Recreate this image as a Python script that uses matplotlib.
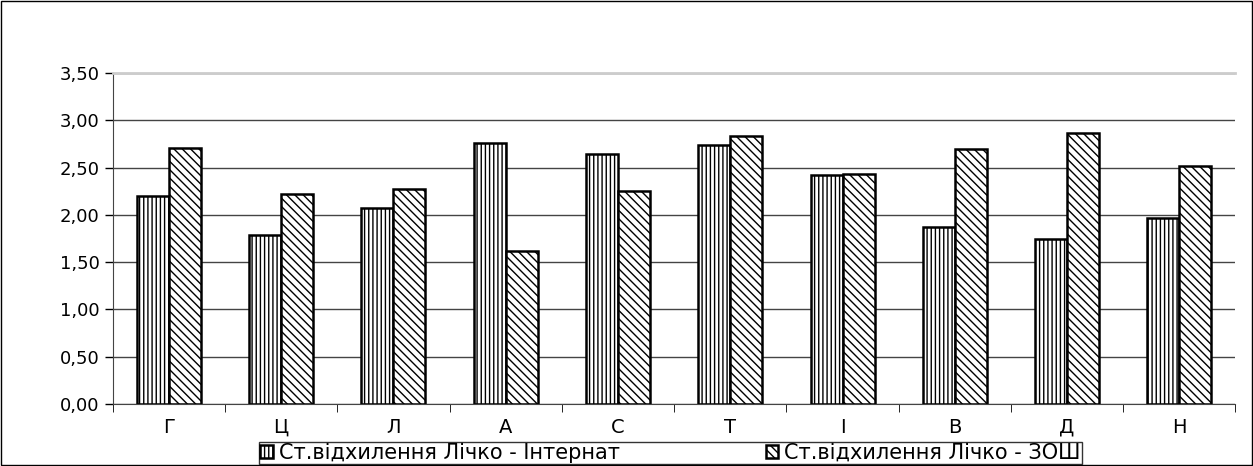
import numpy as np
import matplotlib
matplotlib.use('Agg')
import matplotlib.pyplot as plt
from matplotlib.patches import Rectangle

plt.rcParams['font.family'] = ['DejaVu Sans']
plt.rcParams['hatch.linewidth'] = 1.0

categories = ['Г', 'Ц', 'Л', 'А', 'С', 'Т', 'І', 'В', 'Д', 'Н']
internat = [2.20, 1.79, 2.07, 2.76, 2.64, 2.74, 2.42, 1.87, 1.75, 1.97]
zosh = [2.71, 2.22, 2.27, 1.62, 2.25, 2.83, 2.43, 2.70, 2.87, 2.52]
labels = ['Ст.відхилення Лічко - Інтернат', 'Ст.відхилення Лічко - ЗОШ']

fig = plt.figure(figsize=(12.53, 4.66), dpi=100)
fig.patches.append(Rectangle((0.001, 0.002), 0.998, 0.996, transform=fig.transFigure,
                             fill=False, edgecolor='black', linewidth=1))
ax = fig.add_axes([0.090, 0.133, 0.896, 0.710])

x = np.arange(len(categories))
w = 0.285
b1 = ax.bar(x - w / 2, internat, w, color='white', edgecolor='black', hatch='||||', linewidth=1.8)
b2 = ax.bar(x + w / 2, zosh, w, color='white', edgecolor='black', hatch='\\\\\\\\', linewidth=1.8)

ax.set_xlim(-0.5, len(categories) - 0.5)
ax.set_ylim(0, 3.5)
ax.set_yticks(np.arange(0, 3.51, 0.5))
ax.set_yticklabels([f'{v:.2f}'.replace('.', ',') for v in np.arange(0, 3.51, 0.5)], fontsize=13)
ax.yaxis.grid(True, color='#444444', linewidth=1)
ax.set_axisbelow(True)
ax.set_xticks(x)
ax.set_xticklabels(categories, fontsize=14)
ax.tick_params(axis='x', length=0, pad=10)
ax.tick_params(axis='y', length=6, direction='out', width=1)
ax.set_xticks(np.arange(-0.5, len(categories), 1), minor=True)
ax.tick_params(axis='x', which='minor', length=6, direction='out')
ax.spines['top'].set_color('#cccccc')
ax.spines['top'].set_linewidth(2)
ax.spines['right'].set_visible(False)
ax.spines['left'].set_color('#444444')
ax.spines['bottom'].set_color('#444444')

fig.legend([b1, b2], labels, loc='lower center', bbox_to_anchor=(0.535, 0.0), ncol=2,
           fontsize=15, frameon=True, fancybox=False, edgecolor='black',
           handlelength=0.6, handleheight=0.6, handletextpad=0.3, columnspacing=7,
           borderpad=0.05, borderaxespad=0.1)

fig.savefig('out.png', dpi=100)
